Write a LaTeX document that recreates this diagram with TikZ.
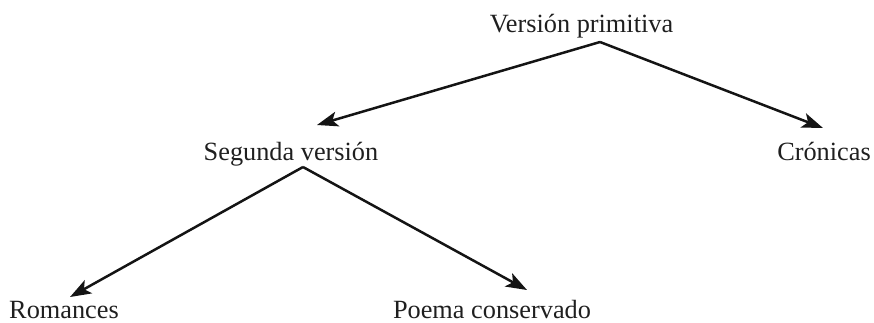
\documentclass[tikz,border=0pt]{standalone}
\usepackage{fontspec}
\setmainfont{Liberation Serif}
\usetikzlibrary{arrows.meta}
\tikzset{
  lbl/.style={anchor=base, inner sep=0pt, font=\fontsize{26.3}{30}\selectfont, text=black!88},
  arr/.style={line width=2.5pt, draw=black!92, -{Stealth[length=21pt,width=15pt,inset=5pt]}}
}
\begin{document}
\begin{tikzpicture}[x=1pt,y=-1pt]
\useasboundingbox (0,0) rectangle (874,322);
\node[lbl] (vp) at (581.5,32) {Versión primitiva};
\node[lbl] (sv) at (291,160) {Segunda versión};
\node[lbl] (cr) at (824,160) {Crónicas};
\node[lbl] (ro) at (64,318) {Romances};
\node[lbl] (pc) at (492,318) {Poema conservado};
\draw[arr] ([shift={(18.5,10)}]vp.base) -- ([shift={(26,-35)}]sv.base);
\draw[arr] ([shift={(18.5,10)}]vp.base) -- ([shift={(-1,-32)}]cr.base);
\draw[arr] ([shift={(12,7)}]sv.base) -- ([shift={(6,-21)}]ro.base);
\draw[arr] ([shift={(12,7)}]sv.base) -- ([shift={(35,-28)}]pc.base);
\end{tikzpicture}
\end{document}
